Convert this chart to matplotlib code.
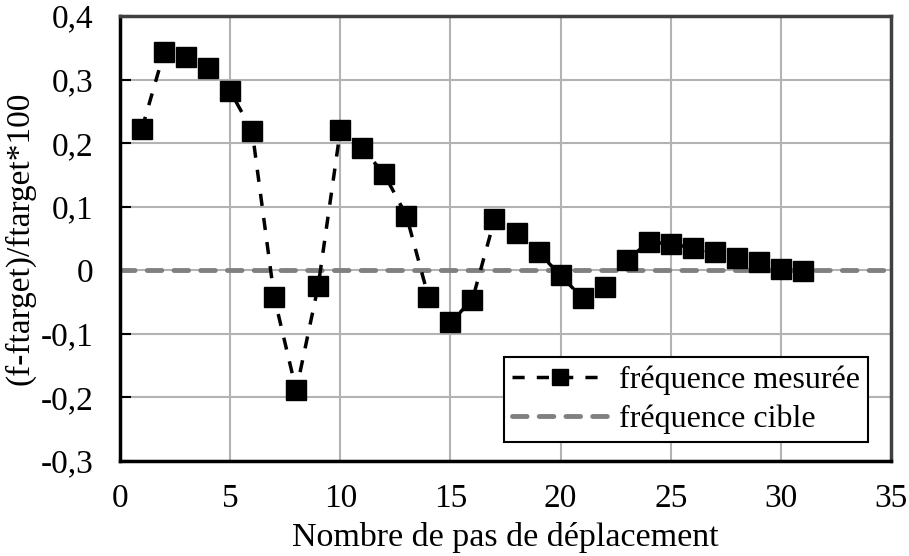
import matplotlib
matplotlib.use('Agg')
import matplotlib.pyplot as plt
import numpy as np

# data
steps = list(range(1, 32))
ecart = [0.223, 0.343, 0.335, 0.318, 0.282, 0.219, -0.042, -0.189, -0.024,
         0.220, 0.192, 0.151, 0.086, -0.042, -0.082, -0.046, 0.080, 0.058,
         0.028, -0.008, -0.044, -0.027, 0.016, 0.044, 0.042, 0.035, 0.028,
         0.020, 0.013, 0.002, -0.001]
cible_x = [0, 35]
cible_y = [0, 0]

xticks = [0, 5, 10, 15, 20, 25, 30, 35]
yticks = [-0.3, -0.2, -0.1, 0, 0.1, 0.2, 0.3, 0.4]
ylabels = ['-0,3', '-0,2', '-0,1', '0', '0,1', '0,2', '0,3', '0,4']

plt.rcParams['font.family'] = ['Liberation Serif', 'DejaVu Serif']

fig = plt.figure(figsize=(9.09, 5.56), dpi=100)
ax = fig.add_axes([120 / 909, 1 - 461 / 556, 771 / 909, 445 / 556])

ax.plot(cible_x, cible_y, color='#808080', lw=3.5, ls=(0, (3, 2.5)),
        dash_capstyle='round', label='fréquence cible', zorder=2)
ax.plot(steps, ecart, color='black', lw=2.5, ls=(0, (3.5, 3.5)), marker='s',
        markersize=14, markerfacecolor='black', markeredgecolor='black',
        label='fréquence mesurée', zorder=3)

ax.set_xlim(0, 35)
ax.set_ylim(-0.3, 0.4)
ax.set_xticks(xticks)
ax.set_yticks(yticks)
ax.set_yticklabels(ylabels)
ax.grid(True, color='#b3b3b3', lw=1.5)
ax.set_axisbelow(True)
ax.tick_params(axis='x', length=0, labelsize=24, pad=16)
ax.tick_params(axis='y', direction='in', length=8, width=1.5, labelsize=24, pad=19)

for side in ['left', 'bottom']:
    ax.spines[side].set_linewidth(2.5)
    ax.spines[side].set_color('black')
for side in ['top', 'right']:
    ax.spines[side].set_linewidth(2.5)
    ax.spines[side].set_color('#404040')

ax.set_xlabel('Nombre de pas de déplacement', fontsize=24.5, labelpad=6)
ax.set_ylabel('(f-ftarget)/ftarget*100', fontsize=24, labelpad=4)

handles, labels = ax.get_legend_handles_labels()
leg = ax.legend(handles[::-1], labels[::-1], loc='lower right', fontsize=23,
                fancybox=False, framealpha=1, edgecolor='black',
                bbox_to_anchor=(0.97, 0.043), borderaxespad=0,
                handlelength=3.0, handletextpad=0.35, borderpad=0.25,
                labelspacing=0.3, markerscale=0.85)
leg.get_frame().set_linewidth(1.5)

fig.savefig('out.png', dpi=100)
